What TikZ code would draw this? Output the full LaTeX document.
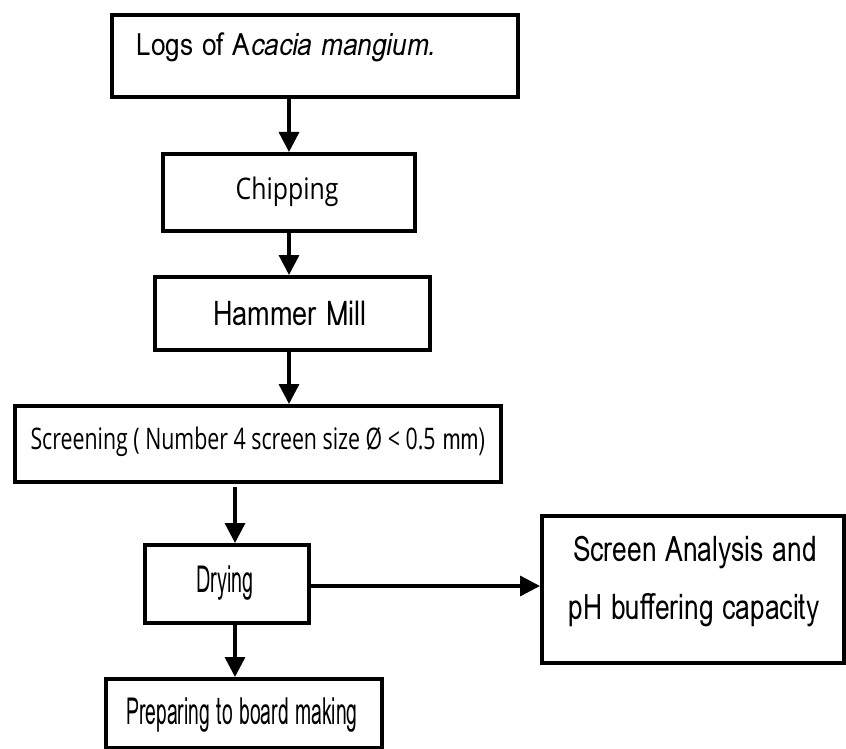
\documentclass[tikz,border=0pt]{standalone}
\usepackage{fontspec}
\setmainfont{Loma}
\newfontfamily\segoe{Open Sans}
\usetikzlibrary{arrows.meta}
\begin{document}
\begin{tikzpicture}[x=1pt,y=-1pt,
  box/.style={draw=black, line width=3.8pt, inner sep=0pt, anchor=north west},
  lbl/.style={inner sep=0pt, font=\fontsize{22}{26}\selectfont},
  flow/.style={line width=3.4pt, -{Triangle[length=20pt,width=20pt]}}]
\useasboundingbox (0,0) rectangle (846,749);
% boxes
\node[box, minimum width=406pt, minimum height=82pt] (logs) at (110,13) {};
\node[box, minimum width=252pt, minimum height=77pt] (chip) at (161,152) {};
\node[box, minimum width=275pt, minimum height=73pt] (ham) at (153,275) {};
\node[box, minimum width=486pt, minimum height=76pt] (scr) at (13,404) {};
\node[box, minimum width=164pt, minimum height=78pt] (dry) at (143,543) {};
\node[box, minimum width=302pt, minimum height=147pt] (ana) at (540,514) {};
\node[box, minimum width=276pt, minimum height=69pt] (prep) at (104,677) {};
% labels
\node[lbl] (tlogs) at (286,47) {\scalebox{1.19}[1.4]{Logs of A\textit{cacia mangium.}}};
\node[lbl] (tchip) at (287,192) {\scalebox{1.13}[1.35]{\segoe Chipping}};
\node[lbl] (tham) at (290,313) {\scalebox{1.23}[1.55]{Hammer Mill}};
\node[lbl] (tscr) at (258,442) {\scalebox{0.97}[1.35]{{\segoe Screening ( Number 4 screen size Ø < 0.5} mm)}};
\node[lbl] (tdry) at (225,583) {\scalebox{0.9}[1.7]{Drying}};
\node[lbl] (tana1) at (695,553) {\scalebox{1.2}[1.6]{Screen Analysis and}};
\node[lbl] (tana2) at (694,610) {\scalebox{1.2}[1.6]{pH buffering capacity}};
\node[lbl] (tprep) at (242,715) {\scalebox{0.88}[1.7]{Preparing to board making}};
% connectors
\coordinate (s1) at (289,95);
\draw[flow] (logs.south -| s1) -- (chip.north -| s1);
\draw[flow] (chip.south -| s1) -- (ham.north -| s1);
\draw[flow] (ham.south -| s1) -- (scr.north -| s1);
\coordinate (s2) at (235,487);
\draw[flow] (s2) -- (dry.north -| s2);
\draw[flow] (dry.south -| s2) -- (prep.north -| s2);
\draw[flow] (dry.east |- 0,586) -- (ana.west |- 0,586);
\end{tikzpicture}
\end{document}
